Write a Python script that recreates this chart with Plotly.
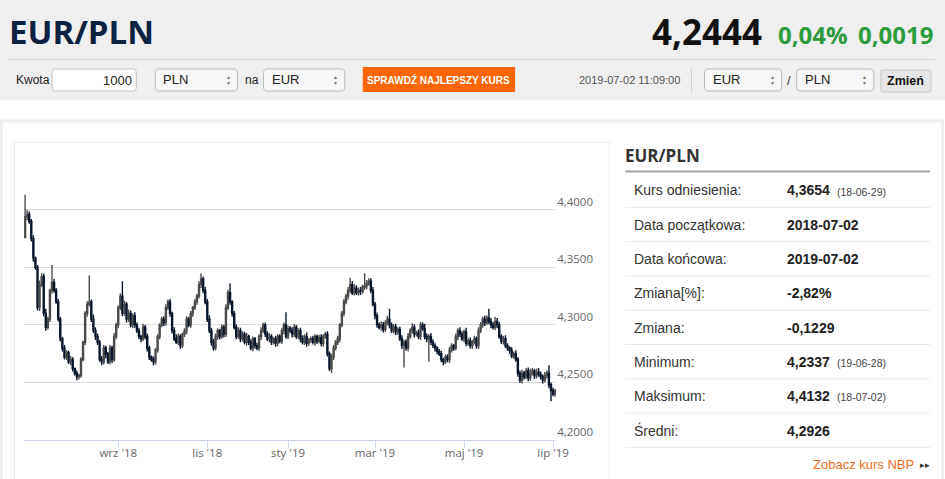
import pandas as pd
import plotly.graph_objects as go

W, H = 945, 479
SANS = "Liberation Sans, Arial, sans-serif"
OPEN = "Open Sans, sans-serif"

# --- data ---
pair = "EUR/PLN"
rate_now = "4,2444"
change_pct = "0,04%"
change_abs = "0,0019"
quote_time = "2019-07-02 11:09:00"
amount = "1000"

# daily closes in pips above 4.0000, 2018-07-02 .. 2019-07-02
first_open = 3760
closes = [
    3940, 3960, 3900, 3750, 3580, 3500, 3150, 3350, 3420, 3100,
    2980, 3050, 3300, 3370, 3300, 3200, 3050, 2880, 2800, 2720,
    2760, 2680, 2700, 2620, 2580, 2550, 2560,
    2700, 2850, 3100, 3180, 3200, 3050, 2950, 2900,
    2850, 2700, 2680, 2800, 2750, 2680, 2800, 2700, 2900, 3000,
    3150, 3250, 3100, 3180, 3050, 3100, 3000, 3080, 3000, 2950,
    2900, 2880, 2980, 2900, 2800, 2720, 2700, 2680, 2780, 2900,
    3000, 3050, 3020, 3150, 3200, 3100, 2950, 2880, 2850, 2900,
    2820, 2920, 2950, 3050, 3000, 3100, 3150, 3200, 3250, 3350,
    3400, 3300, 3200, 3050, 2950, 2850, 2800, 2900, 2950, 2900,
    2980, 2920, 3150, 3280, 3200, 3100, 2980, 2900, 2950, 2880,
    2920, 2850, 2900, 2850, 2800, 2880, 2820, 2800, 2900, 2950,
    3000, 2920, 2880, 2900, 2850, 2880, 2840, 2900, 2860, 2950,
    3000, 2900, 2970, 2950, 2920, 2980, 2900, 2950, 2880, 2850,
    2900, 2840, 2870, 2880, 2850, 2900, 2860, 2890, 2840, 2900,
    2920,
    2750, 2620, 2720, 2800, 2850, 2880, 3000, 3100, 3200, 3250,
    3300, 3350, 3280, 3320, 3280, 3300, 3290, 3330, 3340, 3360,
    3380, 3300, 3180, 3080, 3000, 2980, 3000, 2960, 3020, 3050,
    3000, 2950, 2980, 2940, 2960,
    2880, 2820, 2850, 2800, 2900, 2950, 2980, 2920, 2930,
    2900, 3000, 2970, 2900, 2880, 2900, 2850, 2820, 2800, 2770,
    2750, 2700, 2680, 2720, 2700, 2780, 2820, 2800, 2900, 2950,
    2920, 2880, 2940, 2840, 2860, 2820, 2850, 2880, 2820, 2950,
    3000, 3050, 3020, 3060, 3030, 3000, 2980, 3030, 3000, 2900,
    2860, 2880, 2820, 2800, 2780, 2730, 2750, 2700, 2580, 2520,
    2580, 2550, 2600, 2540, 2580, 2600, 2560, 2590, 2570, 2550,
    2520, 2560, 2580, 2480, 2430, 2400, 2425,
]
# upper / lower wick lengths in pips
wick_up = [
    192, 40, 25, 20, 30, 15, 20, 35, 30, 25, 40, 20, 15, 150, 30, 20, 25, 20, 15, 25,
    20, 15, 30, 20, 10, 25, 15, 20, 12, 18, 25, 230, 20, 40, 30, 25, 20, 30, 25, 20,
    15, 25, 20, 30, 18, 22, 25, 130, 30, 20, 35, 25, 20, 30, 20, 25, 15, 30, 20, 25,
    20, 15, 25, 20, 18, 15, 20, 25, 30, 20, 25, 15, 30, 40, 25, 20, 15, 20, 25, 18,
    20, 15, 25, 20, 30, 50, 20, 30, 25, 35, 25, 30, 25, 20, 15, 25, 20, 30, 25, 80,
    15, 20, 25, 30, 25, 25, 20, 30, 15, 25, 20, 15, 25, 20, 30, 18, 20, 25, 30, 20,
    15, 25, 20, 18, 25, 20, 110, 25, 20, 30, 25, 20, 20, 25, 30, 20, 35, 15, 20, 25,
    20, 15, 25, 30, 20, 18, 25, 20, 30, 25, 20, 25, 15, 20, 25, 20, 30, 60, 30, 35,
    25, 25, 30, 20, 110, 30, 25, 25, 30, 20, 25, 20, 30, 25, 20, 30, 90, 20, 25, 30,
    20, 25, 30, 20, 25, 30, 20, 35, 25, 20, 30, 25, 20, 40, 25, 20, 30, 25, 20, 15,
    20, 25, 15, 20, 25, 30, 20, 15, 25, 20, 30, 25, 20, 35, 25, 30, 20, 25, 20, 30,
    25, 20, 30, 25, 80, 30, 25, 40, 30, 25, 20, 25, 30, 20, 15, 25, 20, 30, 20, 25,
    30, 20, 25, 30, 40, 25, 20, 30, 35, 25, 20, 30, 25, 70, 20, 25, 20,
]
wick_down = [
    0, 30, 20, 25, 30, 20, 25, 30, 20, 25, 30, 20, 25, 30, 20, 15, 20, 25, 30, 20,
    25, 20, 30, 25, 20, 30, 25, 20, 15, 25, 30, 20, 25, 20, 30, 25, 20, 30, 25, 40,
    20, 25, 30, 20, 25, 30, 20, 25, 20, 30, 25, 20, 30, 25, 20, 25, 30, 20, 25, 30,
    25, 20, 30, 25, 20, 25, 20, 30, 25, 20, 30, 25, 20, 15, 25, 30, 20, 25, 30, 20,
    25, 30, 20, 25, 20, 30, 25, 20, 25, 20, 30, 25, 20, 30, 25, 20, 30, 25, 20, 25,
    30, 20, 25, 20, 30, 25, 20, 30, 25, 20, 30, 25, 20, 25, 30, 20, 25, 20, 30, 25,
    20, 30, 25, 20, 25, 30, 20, 25, 20, 30, 25, 20, 25, 30, 20, 25, 30, 20, 25, 20,
    30, 25, 20, 25, 30, 20, 25, 20, 40, 25, 20, 25, 30, 20, 25, 20, 30, 25, 20, 25,
    20, 25, 30, 20, 25, 30, 20, 25, 20, 30, 25, 20, 30, 25, 20, 25, 30, 20, 25, 30,
    25, 20, 30, 190, 25, 30, 20, 25, 30, 20, 25, 30, 20, 25, 30, 200, 25, 20, 30, 25,
    20, 25, 30, 20, 25, 30, 20, 25, 20, 30, 25, 20, 30, 25, 20, 25, 30, 20, 25, 30,
    20, 25, 30, 20, 25, 30, 20, 25, 30, 20, 25, 30, 20, 25, 30, 20, 25, 20, 30, 25,
    30, 25, 20, 30, 25, 20, 30, 25, 20, 25, 30, 20, 25, 30, 93, 20, 25,
]
no_trading = ["2018-12-24", "2018-12-25", "2018-12-26", "2018-12-31", "2019-01-01"]

month_ticks = ["2018-09-03", "2018-11-01", "2019-01-02", "2019-03-01", "2019-05-01", "2019-07-01"]
month_labels = ["wrz '18", "lis '18", "sty '19", "mar '19", "maj '19", "lip '19"]
y_ticks = [4.20, 4.25, 4.30, 4.35, 4.40, 4.45]
y_labels = ["4,2000", "4,2500", "4,3000", "4,3500", "4,4000", ""]

table_labels = ["Kurs odniesienia:", "Data początkowa:", "Data końcowa:", "Zmiana[%]:",
                "Zmiana:", "Minimum:", "Maksimum:", "Średni:"]
table_values = ["4,3654", "2018-07-02", "2019-07-02", "-2,82%", "-0,1229", "4,2337", "4,4132", "4,2926"]
table_notes = ["(18-06-29)", "", "", "", "", "(19-06-28)", "(18-07-02)", ""]

# --- candles ---
days = pd.bdate_range("2018-07-02", "2019-07-02")
days = days[~days.isin(pd.to_datetime(no_trading))]
n = min(len(days), len(closes), len(wick_up), len(wick_down))
days = days[:n] + pd.Timedelta(hours=12)
opens = [first_open] + closes[:n - 1]
highs = [max(o, c) + u for o, c, u in zip(opens, closes[:n], wick_up)]
lows = [min(o, c) - d for o, c, d in zip(opens, closes[:n], wick_down)]


def to_rate(v):
    return [4 + p / 10000 for p in v]


fig = go.Figure(go.Candlestick(
    x=days, open=to_rate(opens), high=to_rate(highs), low=to_rate(lows), close=to_rate(closes[:n]),
    increasing=dict(line=dict(color="#4a4a4a", width=1.4), fillcolor="#ffffff"),
    decreasing=dict(line=dict(color="#08162b", width=1.4), fillcolor="#0d2240"),
    whiskerwidth=0, hoverinfo="skip", showlegend=False,
))

# --- page furniture (pixel helpers) ---
shapes, ann = [], []


def fx(x):
    return x / W


def fy(y):
    return 1 - y / H


def rect(x0, y0, x1, y1, fill="rgba(0,0,0,0)", line=None, lw=1, layer="above", r=0):
    ln = dict(color=line or "rgba(0,0,0,0)", width=lw if line else 0)
    if r:
        p = (f"M{fx(x0 + r)},{fy(y0)} L{fx(x1 - r)},{fy(y0)} Q{fx(x1)},{fy(y0)} {fx(x1)},{fy(y0 + r)} "
             f"L{fx(x1)},{fy(y1 - r)} Q{fx(x1)},{fy(y1)} {fx(x1 - r)},{fy(y1)} "
             f"L{fx(x0 + r)},{fy(y1)} Q{fx(x0)},{fy(y1)} {fx(x0)},{fy(y1 - r)} "
             f"L{fx(x0)},{fy(y0 + r)} Q{fx(x0)},{fy(y0)} {fx(x0 + r)},{fy(y0)} Z")
        shapes.append(dict(type="path", path=p, xref="paper", yref="paper",
                           fillcolor=fill, line=ln, layer=layer))
    else:
        shapes.append(dict(type="rect", x0=fx(x0), x1=fx(x1), y0=fy(y0), y1=fy(y1),
                           xref="paper", yref="paper", fillcolor=fill, line=ln, layer=layer))


def hline(x0, x1, y, color, lw=1):
    shapes.append(dict(type="line", x0=fx(x0), x1=fx(x1), y0=fy(y), y1=fy(y),
                       xref="paper", yref="paper", line=dict(color=color, width=lw)))


def vline(x, y0, y1, color, lw=1):
    shapes.append(dict(type="line", x0=fx(x), x1=fx(x), y0=fy(y0), y1=fy(y1),
                       xref="paper", yref="paper", line=dict(color=color, width=lw)))


def text(x, y, s, size=12, color="#333", family=SANS, weight="normal", anchor="left"):
    ann.append(dict(x=fx(x), y=fy(y), xref="paper", yref="paper", text=s, showarrow=False,
                    xanchor=anchor, yanchor="middle",
                    font=dict(family=family, size=size, color=color, weight=weight)))


def select(x0, x1, s):
    rect(x0, 69, x1, 91, fill="#f6f6f6", line="#b9b9b9", r=4)
    text(x0 + 6, 79.5, s, 13, "#222")
    text(x1 - 9, 77, "▲", 5, "#777", anchor="center")
    text(x1 - 9, 83, "▼", 5, "#777", anchor="center")


# header band
rect(0, 0, W, 100, fill="#efefef", layer="below")
text(7, 31, pair, 33, "#0d2240", OPEN, "bold")
text(762, 31, rate_now, 35, "#111111", OPEN, "bold", "right")
text(848, 35, change_pct, 24, "#2e9b3e", OPEN, "bold", "right")
text(933, 35, change_abs, 24, "#2e9b3e", OPEN, "bold", "right")
hline(8, 933, 59.5, "#d3d3d3")

text(14, 80, "Kwota", 12, "#222")
rect(52, 69, 136, 91, fill="#ffffff", line="#c4c4c4", r=3)
text(134, 80, amount, 13, "#222", anchor="right")
select(155, 237, "PLN")
text(242, 80, "na", 12, "#222")
select(263, 344, "EUR")
rect(362, 67, 514, 92, fill="#ff6600")
text(438, 79.5, "SPRAWDŹ NAJLEPSZY KURS", 10, "#ffffff", SANS, "bold", "center")
text(681, 80, quote_time, 11, "#555", anchor="right")
vline(690, 68, 93, "#d0d0d0")
select(703, 780, "EUR")
text(787, 80, "/", 13, "#333", anchor="center")
select(795, 872, "PLN")
rect(879, 70, 929, 92, fill="#e6e6e6", line="#c9c9c9", r=2)
text(904, 81, "Zmień", 12.5, "#111", SANS, "bold", "center")

# lower panel and chart box
rect(1.5, 121, 940.5, 520, fill="rgba(0,0,0,0)", line="#efefef", lw=3, layer="below")
rect(14.5, 142.5, 608, 520, fill="rgba(0,0,0,0)", line="#ececec", lw=1, layer="below")

# table
text(622, 155, pair, 17, "#333", OPEN, "bold")
hline(624, 928, 171.5, "#a2a2a2", 2)
for k, (lab, val, note) in enumerate(zip(table_labels, table_values, table_notes)):
    yc = 190.5 + 34.3 * k
    text(631, yc, lab, 14, "#333")
    text(783, yc, val, 14, "#222", SANS, "bold")
    if note:
        text(833, yc + 1, note, 10.5, "#444")
    hline(624, 928, 207.3 + 34.3 * k, "#e9e9e9")
text(914, 464, "Zobacz kurs NBP", 13, "#f26b1d", SANS, anchor="right")
text(923, 465, "▸▸", 9, "#333", anchor="center")

# the page shot comes out about 1.6% narrower than the css width, so draw at 960
fig.update_layout(
    width=960, height=H, margin=dict(l=0, r=0, t=0, b=0),
    paper_bgcolor="#ffffff", plot_bgcolor="rgba(0,0,0,0)",
    shapes=shapes, annotations=ann, showlegend=False,
    xaxis=dict(
        domain=[fx(24), fx(555)], type="date",
        range=["2018-07-02", "2019-07-03"],
        rangebreaks=[dict(bounds=["sat", "mon"]), dict(values=no_trading)],
        rangeslider=dict(visible=False),
        tickvals=[d + " 12:00" for d in month_ticks], ticktext=month_labels,
        showgrid=False, zeroline=False, showline=True, linecolor="#ccd6eb",
        ticks="outside", ticklen=7, tickcolor="#ccd6eb", ticklabelstandoff=-5,
        tickfont=dict(family=OPEN, size=11.5, color="#666"),
    ),
    yaxis=dict(
        domain=[fy(440), fy(152.3)], range=[4.20, 4.45], side="right",
        tickvals=y_ticks, ticktext=y_labels, ticklabelposition="outside top",
        showgrid=True, gridcolor="#dedede", zeroline=False, showline=False,
        tickfont=dict(family=OPEN, size=11.5, color="#666"),
    ),
)

fig.write_html("out.html", config={"displayModeBar": False},
               post_script="document.body.style.margin='0';document.body.style.overflow='hidden';")
